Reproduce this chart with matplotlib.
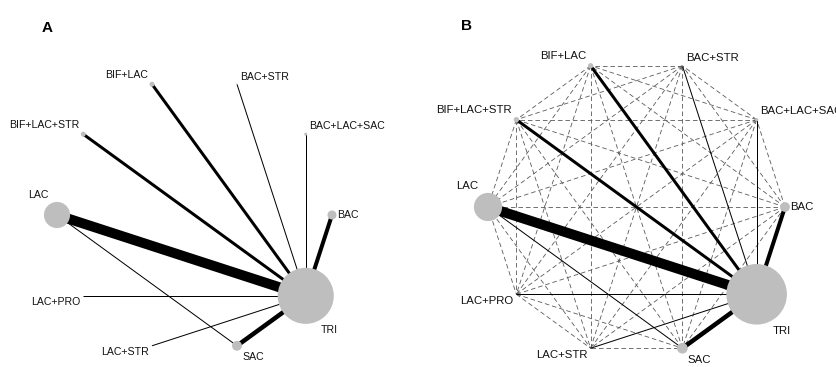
import matplotlib
matplotlib.use("Agg")
import matplotlib.pyplot as plt
import numpy as np
from matplotlib.patches import Circle

plt.rcParams['font.family'] = ['Liberation Sans', 'DejaVu Sans']

# treatments, counter-clockwise from the right
treatments = ['BAC', 'BAC+LAC+SAC', 'BAC+STR', 'BIF+LAC', 'BIF+LAC+STR',
              'LAC', 'LAC+PRO', 'LAC+STR', 'SAC', 'TRI']
# relative node size (share of randomised patients)
node_size = [0.033, 0.011, 0.005, 0.018, 0.018, 0.095, 0.0, 0.0, 0.036, 0.204]

# direct comparisons and number of studies
edge_from = ['LAC', 'SAC', 'BAC', 'BIF+LAC', 'BIF+LAC+STR',
             'BAC+STR', 'BAC+LAC+SAC', 'LAC+PRO', 'LAC+STR', 'LAC']
edge_to = ['TRI', 'TRI', 'TRI', 'TRI', 'TRI',
           'TRI', 'TRI', 'TRI', 'TRI', 'SAC']
n_studies = [10, 4.5, 4, 3, 3, 1, 1, 1, 1, 1]

W, H = 837, 367
fig = plt.figure(figsize=(W / 100, H / 100), dpi=100)


def netgraph(x0, x1, cx, cy, R, letter, lx, ly, fs, indirect=False):
    # axes spanning pixel columns x0..x1, circle centre (cx, cy) px, radius R px
    ax = fig.add_axes([x0 / W, 0, (x1 - x0) / W, 1])
    ax.set_xlim((x0 - cx) / R, (x1 - cx) / R)
    ax.set_ylim((cy - H) / R, cy / R)
    ax.axis('off')

    k = len(treatments)
    theta = 2 * np.pi * np.arange(k) / k
    px = np.cos(theta)
    py = np.sin(theta)
    idx = {t: i for i, t in enumerate(treatments)}

    direct = set()
    for a, b, n in zip(edge_from, edge_to, n_studies):
        i, j = idx[a], idx[b]
        direct.add(frozenset((i, j)))
        ax.plot([px[i], px[j]], [py[i], py[j]], color='black',
                lw=n * 0.72, solid_capstyle='butt', zorder=2)

    if indirect:
        for i in range(k):
            for j in range(i + 1, k):
                if frozenset((i, j)) in direct:
                    continue
                ax.plot([px[i], px[j]], [py[i], py[j]], color='#5a5a5a',
                        lw=0.6, dashes=(5.5, 3.5), zorder=1)

    for i, t in enumerate(treatments):
        r = node_size[i]
        if r > 0:
            ax.add_patch(Circle((px[i], py[i]), r, facecolor='#bebebe',
                                edgecolor='none', zorder=3))
        c, s = px[i], py[i]
        if abs(c) < 1e-9:
            c = 0
        dx = np.sign(c) * (0.022 + 0.43 * r) if c != 0 else 0
        dy = np.sign(s) * (0.011 + r)
        ha = 'left' if c > 0 else ('right' if c < 0 else 'center')
        va = 'bottom' if s > 0 else ('top' if s < 0 else 'center')
        ax.text(px[i] + dx, py[i] + dy, t, ha=ha, va=va, fontsize=fs,
                color='#111111', zorder=4)

    fig.text(lx / W, 1 - ly / H, letter, fontsize=11, fontweight='bold',
             ha='center', va='center')


netgraph(0, 418, 194.5, 215, 137.5, 'A', 47, 28, 7.6)
netgraph(418, 837, 636.5, 207, 148.5, 'B', 467, 26, 8.2, indirect=True)

fig.savefig('out.png', dpi=100, facecolor='white')
